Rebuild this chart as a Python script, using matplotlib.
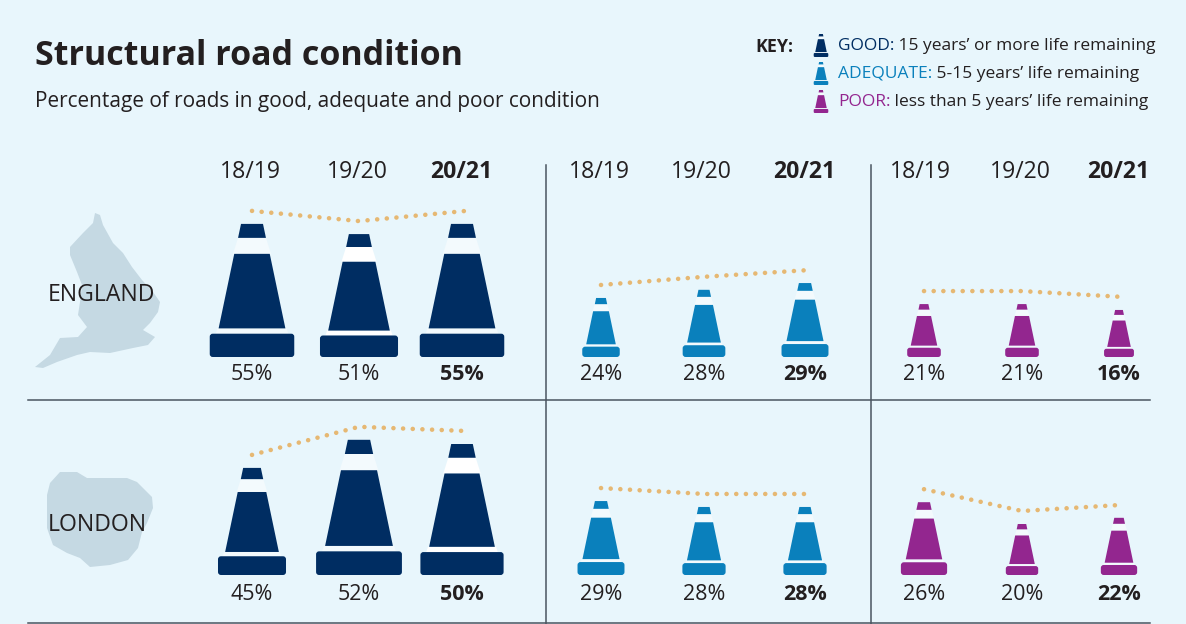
import matplotlib
matplotlib.use("Agg")
import matplotlib.pyplot as plt
from matplotlib.patches import Polygon, FancyBboxPatch

plt.rcParams['font.family'] = ['Open Sans', 'DejaVu Sans']

# --- data ---
years = ['18/19', '19/20', '20/21']
conditions = ['good', 'adequate', 'poor']
regions = ['ENGLAND', 'LONDON']
england_good = [55, 51, 55]
england_adequate = [24, 28, 29]
england_poor = [21, 21, 16]
london_good = [45, 52, 50]
london_adequate = [29, 28, 28]
london_poor = [26, 20, 22]

# --- layout, everything in image pixels ---
W, H = 1186, 624
BG = '#e8f6fc'
INK = '#231f20'
STRIPE = '#f3fafd'
COLORS = {'good': '#002d62', 'adequate': '#0a80bc', 'poor': '#93268f'}
COL_X = {'good': [252, 359, 462], 'adequate': [601, 704, 805], 'poor': [924, 1022, 1119]}
HEAD_X = {'good': [250, 357, 461], 'adequate': [599, 701, 804], 'poor': [920, 1020, 1118]}
ROW_BOTTOM = {'ENGLAND': 357, 'LONDON': 575}
LABEL_Y = {'ENGLAND': 374, 'LONDON': 595}
# these two cones have a clearly white stripe in the original
WHITE_STRIPES = {('ENGLAND', 'good', 1), ('LONDON', 'good', 2)}
# the drawn cones are not quite to one scale, so pixels per percentage point per cone
PX_PER_PCT = {
    ('ENGLAND', 'good'): [2.42, 2.41, 2.42],
    ('ENGLAND', 'adequate'): [2.46, 2.40, 2.55],
    ('ENGLAND', 'poor'): [2.52, 2.52, 2.94],
    ('LONDON', 'good'): [2.38, 2.60, 2.62],
    ('LONDON', 'adequate'): [2.55, 2.43, 2.43],
    ('LONDON', 'poor'): [2.80, 2.55, 2.60],
}

ENGLAND_MAP = [(95, 213), (100, 215), (103, 225), (113, 243), (123, 253), (132, 267), (142, 280), (153, 292),
               (160, 302), (158, 312), (150, 323), (143, 330), (155, 337), (148, 345), (133, 348), (110, 353),
               (90, 352), (77, 355), (57, 362), (43, 368), (35, 367), (50, 355), (60, 338), (78, 337),
               (87, 327), (78, 315), (80, 302), (82, 285), (77, 272), (70, 255), (70, 247), (83, 233), (93, 223)]
LONDON_MAP = [(47, 495), (50, 483), (60, 472), (77, 472), (87, 478), (107, 478), (127, 478), (137, 482),
              (152, 497), (153, 508), (147, 523), (142, 532), (138, 548), (128, 560), (110, 565), (90, 567),
              (80, 558), (67, 553), (53, 545), (47, 528), (47, 508)]


def px(size):
    # font size from a pixel height, the figure is 100 dpi
    return size * 0.72


def trapezoid(ax, cx, y0, y1, w0, w1, color, zorder=3):
    ax.add_patch(Polygon([(cx - w0 / 2, y0), (cx + w0 / 2, y0), (cx + w1 / 2, y1), (cx - w1 / 2, y1)],
                         closed=True, facecolor=color, edgecolor='none', zorder=zorder))


def draw_cone(ax, cx, bottom, height, color, stripe=STRIPE):
    width = 0.635 * height
    top = bottom - height
    # top cap, pale stripe, body, pale stripe, foot
    trapezoid(ax, cx, top, top + 0.105 * height, 0.26 * width, 0.33 * width, color)
    trapezoid(ax, cx, top + 0.105 * height, top + 0.225 * height, 0.33 * width, 0.45 * width, stripe, 2)
    trapezoid(ax, cx, top + 0.225 * height, top + 0.785 * height, 0.42 * width, 0.79 * width, color)
    trapezoid(ax, cx, top + 0.785 * height, top + 0.825 * height, 0.82 * width, 0.86 * width, stripe, 2)
    pad = min(3, 0.05 * height)
    ax.add_patch(FancyBboxPatch((cx - width / 2 + pad, top + 0.825 * height + pad),
                                width - 2 * pad, 0.175 * height - 2 * pad,
                                boxstyle=f'round,pad={pad},rounding_size={pad}',
                                facecolor=color, edgecolor='none', zorder=3))


fig = plt.figure(figsize=(W / 100, H / 100), dpi=100, facecolor=BG)
ax = fig.add_axes([0, 0, 1, 1])
ax.set_xlim(0, W)
ax.set_ylim(H, 0)
ax.axis('off')

# title block
ax.text(35, 56, 'Structural road condition', fontsize=px(34), fontweight='bold', color=INK, va='center')
ax.text(35, 102, 'Percentage of roads in good, adequate and poor condition', fontsize=px(20.8), color=INK, va='center')

# key
ax.text(755, 47.5, 'KEY:', fontsize=px(17.8), fontweight='bold', color=INK, va='center')
key_text = [('good', 'GOOD:', " 15 years\u2019 or more life remaining", 46),
            ('adequate', 'ADEQUATE:', " 5-15 years\u2019 life remaining", 74),
            ('poor', 'POOR:', " less than 5 years\u2019 life remaining", 102)]
for cond, head, rest, y in key_text:
    draw_cone(ax, 821, y + 11, 23, COLORS[cond])
    first = ax.text(838, y, head, fontsize=px(17.4), color=COLORS[cond], va='center')
    ax.annotate(rest, xy=(1, 0.5), xycoords=first, va='center', fontsize=px(17.4), color=INK)

# column headers
for cond in conditions:
    for i, year in enumerate(years):
        ax.text(HEAD_X[cond][i], 172.5, year, ha='center', va='center', fontsize=px(23), color=INK,
                fontweight='bold' if i == 2 else 'normal')

# maps
ax.add_patch(Polygon(ENGLAND_MAP, closed=True, facecolor='#c5d9e3', edgecolor='none', zorder=1))
ax.add_patch(Polygon(LONDON_MAP, closed=True, facecolor='#c5d9e3', edgecolor='none', zorder=1))
ax.text(101, 295, 'ENGLAND', ha='center', va='center', fontsize=px(23), color=INK, zorder=4)
ax.text(97, 525, 'LONDON', ha='center', va='center', fontsize=px(23), color=INK, zorder=4)

# rules
for y in (400, 623):
    ax.plot([28, 1150], [y, y], color='#4a5560', lw=1.1, zorder=1)
for x in (546, 871):
    ax.plot([x, x], [165, H], color='#4a5560', lw=1.1, zorder=1)

# cones
table = {
    ('ENGLAND', 'good'): england_good,
    ('ENGLAND', 'adequate'): england_adequate,
    ('ENGLAND', 'poor'): england_poor,
    ('LONDON', 'good'): london_good,
    ('LONDON', 'adequate'): london_adequate,
    ('LONDON', 'poor'): london_poor,
}
for region in regions:
    bottom = ROW_BOTTOM[region]
    for cond in conditions:
        values = table[(region, cond)]
        tops = []
        for i, value in enumerate(values):
            height = value * PX_PER_PCT[(region, cond)][i]
            stripe = 'white' if (region, cond, i) in WHITE_STRIPES else STRIPE
            draw_cone(ax, COL_X[cond][i], bottom, height, COLORS[cond], stripe)
            tops.append(bottom - height - 13)
            ax.text(COL_X[cond][i], LABEL_Y[region], f'{value}%', ha='center', va='center', fontsize=px(21.5),
                    color=INK, fontweight='bold' if i == 2 else 'normal')
        # trend line floating over the cone tops
        xs = [COL_X[cond][0], COL_X[cond][1], COL_X[cond][2] + 4]
        ax.plot(xs, tops, color='#e6b873', lw=3.3, linestyle=(0, (0.01, 2.1)),
                dash_capstyle='round', zorder=4)

fig.savefig('out.png', dpi=100, facecolor=BG)
